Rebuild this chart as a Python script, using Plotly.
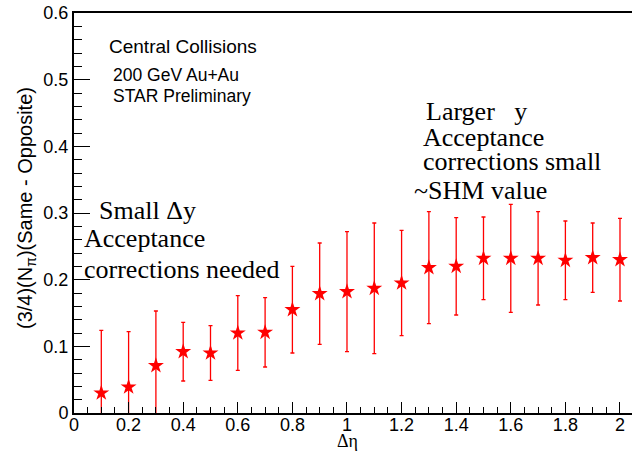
import plotly.graph_objects as go

# Δη bins and measured balance-function-like quantity with errors
delta_eta = [0.1, 0.2, 0.3, 0.4, 0.5, 0.6, 0.7, 0.8, 0.9, 1.0,
             1.1, 1.2, 1.3, 1.4, 1.5, 1.6, 1.7, 1.8, 1.9, 2.0]
values = [0.030, 0.039, 0.071, 0.092, 0.090, 0.120, 0.121, 0.155, 0.179, 0.182,
          0.187, 0.195, 0.218, 0.220, 0.232, 0.232, 0.232, 0.229, 0.233, 0.230]
errors = [0.094, 0.083, 0.082, 0.044, 0.041, 0.056, 0.052, 0.065, 0.076, 0.090,
          0.098, 0.079, 0.084, 0.073, 0.062, 0.081, 0.070, 0.059, 0.052, 0.062]

W, H = 632, 451
L, R, T, B = 74, 0, 13, 38
PW, PH = W - L - R, H - T - B


def px(x):
    return (x - L) / PW


def py(y):
    return (H - B - y) / PH


fig = go.Figure()
fig.add_trace(go.Scatter(
    x=delta_eta, y=values, mode="markers",
    marker=dict(symbol="star", size=12, color="red", line=dict(width=0)),
    error_y=dict(type="data", array=errors, visible=True,
                 color="red", thickness=1.3, width=2),
    showlegend=False,
))

sans = "Liberation Sans, Arial, Helvetica, sans-serif"
serif = "Liberation Serif, Times New Roman, serif"

notes = [
    ("Central Collisions", 107, 47, sans, 19),
    ("200 GeV Au+Au", 111, 75, sans, 17.5),
    ("STAR Preliminary", 111, 96, sans, 17.5),
    ("Larger\u00a0\u00a0\u00a0y", 424, 111, serif, 26),
    ("Acceptance", 421, 137, serif, 26),
    ("corrections small", 421, 161, serif, 26),
    ("~SHM value", 412, 190, serif, 26),
    ("Small \u0394y", 97, 210, serif, 26),
    ("Acceptance", 82, 238, serif, 26),
    ("corrections needed", 82, 269, serif, 26),
]
for text, x, y, fam, size in notes:
    fig.add_annotation(text=text, xref="paper", yref="paper",
                       x=px(x), y=py(y), xanchor="left", yanchor="middle",
                       showarrow=False, font=dict(family=fam, size=size, color="black"))

# axis titles
fig.add_annotation(text="(3/4)(N<sub>\u03c0</sub>)(Same - Opposite)",
                   xref="paper", yref="paper", x=px(26), y=py(208),
                   xanchor="center", yanchor="middle", textangle=-90,
                   showarrow=False, font=dict(family=sans, size=20, color="black"))
fig.add_annotation(text="\u0394\u03b7", xref="paper", yref="paper",
                   x=px(347), y=py(441), xanchor="center", yanchor="middle",
                   showarrow=False, font=dict(family=serif, size=18, color="black"))

fig.update_layout(
    width=W, height=H,
    margin=dict(l=L, r=R, t=T, b=B),
    paper_bgcolor="white", plot_bgcolor="white",
    xaxis=dict(
        range=[0, 2.044], dtick=0.2, tick0=0,
        showline=True, linecolor="black", linewidth=2, mirror=True,
        ticks="inside", ticklen=11, tickwidth=1.2, tickcolor="black",
        minor=dict(dtick=0.05, ticks="inside", ticklen=6, tickwidth=1.2, tickcolor="black"),
        showgrid=False, zeroline=False, ticklabelstandoff=-6,
        tickfont=dict(family=sans, size=18, color="black"),
    ),
    yaxis=dict(
        range=[0, 0.6], dtick=0.1, tick0=0,
        showline=True, linecolor="black", linewidth=2, mirror=False,
        ticks="inside", ticklen=16, tickwidth=1.2, tickcolor="black",
        minor=dict(dtick=0.02, ticks="inside", ticklen=8, tickwidth=1.2, tickcolor="black"),
        showgrid=False, zeroline=False,
        tickfont=dict(family=sans, size=18, color="black"),
    ),
)

fig.write_html("out.html")
